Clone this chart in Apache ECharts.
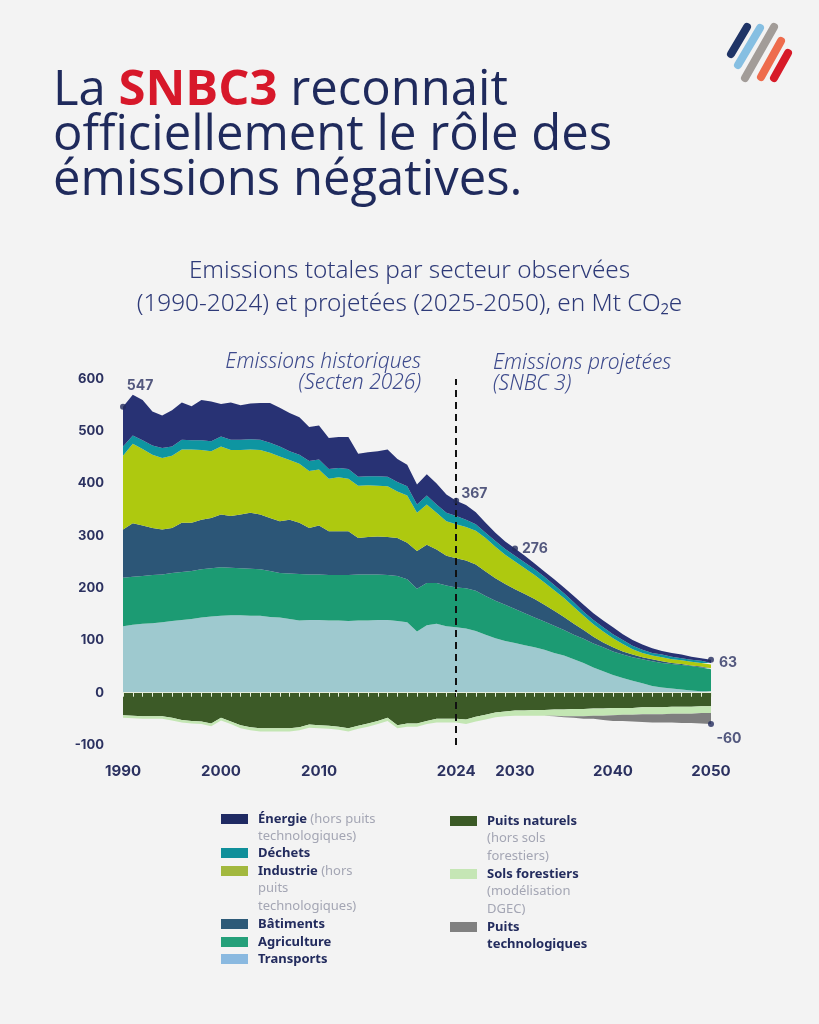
<!DOCTYPE html>
<html>
<head>
<meta charset="utf-8">
<script src="https://cdn.jsdelivr.net/npm/echarts@6/dist/echarts.min.js"></script>
<style>
html,body{margin:0;padding:0;background:#f3f3f3;}
#c{width:819px;height:1024px;}
</style>
</head>
<body>
<div id="c"></div>
<script>
// ---------------- DATA (Mt CO2e) ----------------
const years = ['1990','1991','1992','1993','1994','1995','1996','1997','1998','1999',
  '2000','2001','2002','2003','2004','2005','2006','2007','2008','2009',
  '2010','2011','2012','2013','2014','2015','2016','2017','2018','2019',
  '2020','2021','2022','2023','2024','2025','2026','2027','2028','2029',
  '2030','2031','2032','2033','2034','2035','2036','2037','2038','2039',
  '2040','2041','2042','2043','2044','2045','2046','2047','2048','2049','2050'];

const transports = [127,130,132,133,135,137,139,141,144,146,
  147,148,148,147,147,145,144,141,138,139,
  139,138,138,137,138,138,139,139,137,135,
  117,129,132,127,125,123,118,111,104,99,
  95,91,87,82,76,71,64,57,48,41,
  34,28,23,18,13,10,8,6,4,3,3];

const agriculture = [93,92,91,92,91,92,92,92,92,92,
  93,91,90,90,89,88,85,87,89,87,
  87,87,87,88,88,88,87,86,86,82,
  82,81,78,78,76,77,77,74,72,69,
  65,61,57,54,52,49,47,46,46,46,
  45,45,45,46,47,47,47,47,47,45,42];

const batiments = [92,102,97,90,86,86,94,92,95,96,
  101,99,103,107,105,101,99,103,98,89,
  94,84,84,84,70,72,73,73,73,70,
  72,73,64,57,56,53,50,47,43,40,
  38,37,35,32,29,25,21,17,13,9,
  8,6,5,4,4,3,2,2,1,2,2];

const industrie = [141,152,146,140,137,138,140,140,133,128,
  130,126,123,121,123,125,124,114,113,109,
  107,100,103,100,100,99,97,97,89,90,
  73,77,70,66,65,64,65,64,60,56,
  53,49,46,43,39,36,32,27,24,21,
  17,14,10,8,7,8,7,7,7,7,7];

const dechets = [18,16,17,18,19,18,19,18,19,19,
  19,20,20,20,20,19,19,17,17,19,
  19,19,18,19,17,17,18,18,18,18,
  16,17,16,16,16,14,12,10,11,11,
  11,11,11,11,10,9,9,8,8,8,
  8,8,7,6,5,5,5,4,4,4,3];

const energie = [76,78,77,65,62,69,71,65,77,76,
  62,71,66,68,70,76,74,73,72,65,
  65,59,59,61,44,46,48,52,44,41,
  38,41,40,35,29,28,23,19,16,14,
  14,13,11,10,11,11,12,13,13,13,
  13,11,11,10,9,7,7,7,6,5,6];

const puitsNaturels = [-43,-44,-45,-45,-45,-48,-52,-54,-55,-59,
  -48,-55,-62,-66,-68,-68,-68,-68,-66,-61,
  -62,-63,-65,-68,-63,-59,-54,-48,-62,-59,
  -59,-54,-50,-50,-50,-51,-46,-42,-38,-36,
  -34,-34,-33,-33,-32,-32,-31,-31,-30,-30,
  -29,-29,-29,-28,-28,-28,-27,-27,-27,-26,-26];

const solsForestiers = [-5,-5,-5,-5,-5,-5,-5,-5,-5,-5,
  -5,-5,-6,-6,-6,-6,-6,-6,-6,-6,
  -6,-6,-6,-6,-6,-6,-6,-6,-6,-6,
  -6,-6,-7,-7,-7,-9,-9,-9,-9,-9,
  -10,-10,-11,-11,-12,-13,-14,-14,-14,-14,
  -14,-13,-13,-13,-13,-13,-13,-13,-13,-13,-13];

const puitsTechno = [0,0,0,0,0,0,0,0,0,0,
  0,0,0,0,0,0,0,0,0,0,
  0,0,0,0,0,0,0,0,0,0,
  0,0,0,0,0,0,0,0,0,0,
  0,0,0,0,-1,-2,-3,-5,-6,-8,
  -11,-12,-13,-15,-16,-16,-17,-18,-18,-20,-21];

const xLabelYears = ['1990','2000','2010','2024','2030','2040','2050'];
const yTicks = [-100,0,100,200,300,400,500,600];
const annotatedYears = ['1990','2024','2030','2050'];
const dividerYear = '2024';

// ---------------- STYLE ----------------
const NAVY = '#232c5e';
const AXIS_TXT = '#2b3160';
const colors = {
  'Énergie':'#283274','Déchets':'#0e95a1','Industrie':'#aec90f',
  'Bâtiments':'#2c5677','Agriculture':'#1c9b73','Transports':'#9ec9cf',
  'Puits naturels':'#3c5a27','Sols forestiers':'#c3e6b3','Puits technologiques':'#7f7f7f'
};
const legendColors = {
  'Énergie':'#1f2a63','Déchets':'#0f8f9a','Industrie':'#a2b83e',
  'Bâtiments':'#2d5a78','Agriculture':'#25a07a','Transports':'#8ab9e0',
  'Puits naturels':'#3b5a26','Sols forestiers':'#c5e6b5','Puits technologiques':'#808080'
};

const posSeries = [
  ['Transports', transports],['Agriculture', agriculture],['Bâtiments', batiments],
  ['Industrie', industrie],['Déchets', dechets],['Énergie', energie]
];
const negSeries = [
  ['Puits naturels', puitsNaturels],['Sols forestiers', solsForestiers],['Puits technologiques', puitsTechno]
];

function areaSeries(name, arr, stack){
  return {
    name, type:'line', stack, xAxisIndex:0, yAxisIndex:0,
    data: arr,
    symbol:'none', showSymbol:false,
    lineStyle:{width:0, color:colors[name]},
    itemStyle:{color:colors[name]},
    areaStyle:{color:colors[name], opacity:1},
    emphasis:{disabled:true}, silent:true, z:2
  };
}

const totals = years.map((y,i)=>posSeries.reduce((s,p)=>s+p[1][i],0));
const negTotals = years.map((y,i)=>negSeries.reduce((s,p)=>s+p[1][i],0));

const labelPlacement = {
  '1990':{position:'top', offset:[17,-6]},
  '2024':{position:'right', distance:2, offset:[0,-7]},
  '2030':{position:'right', distance:4, offset:[0,0]},
  '2050':{position:'right', distance:5, offset:[0,3]}
};
const markerData = annotatedYears.map(y=>{
  const i = years.indexOf(y);
  return {value:[y, totals[i]], label:labelPlacement[y]};
});
const lastI = years.length-1;
markerData.push({value:[years[lastI], negTotals[lastI]], label:{position:'bottom', offset:[18,0]}});

// ---------------- LEGEND (one component per entry) ----------------
const richLeg = {
  b:{fontWeight:'bold', color:NAVY, fontSize:13, fontFamily:'Noto Sans', padding:[0,0,0,5]},
  g:{color:'#a4a6b4', fontSize:13, fontFamily:'Noto Sans'}
};
const legendSpec = [
  {name:'Énergie', first:'{b|Énergie} {g|(hors puits}', more:['technologiques)'], x:221, tx:258, cy:819, bold:false},
  {name:'Déchets', first:'{b|Déchets}', more:[], x:221, tx:258, cy:853, bold:false},
  {name:'Industrie', first:'{b|Industrie} {g|(hors}', more:['puits','technologiques)'], x:221, tx:258, cy:871, bold:false},
  {name:'Bâtiments', first:'{b|Bâtiments}', more:[], x:221, tx:258, cy:924, bold:false},
  {name:'Agriculture', first:'{b|Agriculture}', more:[], x:221, tx:258, cy:942, bold:false},
  {name:'Transports', first:'{b|Transports}', more:[], x:221, tx:258, cy:959, bold:false},
  {name:'Puits naturels', first:'{b|Puits naturels}', more:['(hors sols','forestiers)'], x:450, tx:487, cy:821, bold:false},
  {name:'Sols forestiers', first:'{b|Sols forestiers}', more:['(modélisation','DGEC)'], x:450, tx:487, cy:874, bold:false},
  {name:'Puits technologiques', first:'{b|Puits}', more:['technologiques'], x:450, tx:487, cy:927, bold:true}
];
const LINE_H = 17.6;
const legends = legendSpec.map(s=>({
  show:true, orient:'vertical', left:s.x, top:s.cy-8, padding:0,
  itemWidth:27, itemHeight:10, icon:'rect', selectedMode:false,
  data:[{name:s.name, itemStyle:{color:legendColors[s.name]}}],
  formatter:()=>s.first,
  textStyle:{lineHeight:16, rich:richLeg}
}));
const legendExtra = [];
legendSpec.forEach(s=>{
  s.more.forEach((t,k)=>{
    legendExtra.push({type:'text', x:s.tx, y:s.cy + (k+1)*LINE_H, silent:true,
      style:{text:t, fill:s.bold?NAVY:'#a4a6b4', fontSize:13, fontWeight:s.bold?'bold':'normal',
        fontFamily:'Noto Sans', verticalAlign:'middle', align:'left'}});
  });
});

// ---------------- LOGO ----------------
const logo = [
  ['#1f3466',747,27,731,54],
  ['#86bfe2',760,28,738,65],
  ['#a29c98',774,27,745,78],
  ['#ee6c4d',781,41,761,77],
  ['#d71a28',788,53,774,78]
].map(l=>({type:'line', silent:true, shape:{x1:l[1],y1:l[2],x2:l[3],y2:l[4]},
  style:{stroke:l[0], lineWidth:8, lineCap:'round'}}));

const annFont = 'italic 300 21px "Noto Sans"';
const graphics = logo.concat([
  {type:'text', x:421, y:352, silent:true, style:{text:'Emissions historiques\n(Secten 2026)', font:annFont, fill:'#3d4a8c', align:'right', verticalAlign:'top', lineHeight:21}},
  {type:'text', x:493, y:353, silent:true, style:{text:'Emissions projetées\n(SNBC 3)', font:annFont, fill:'#3d4a8c', align:'left', verticalAlign:'top', lineHeight:21}}
]).concat(legendExtra);

const chart = echarts.init(document.getElementById('c'), null, {renderer:'canvas'});
chart.setOption({
  backgroundColor:'#f3f3f3',
  animation:false,
  title:[
    {text:'{n|La }{s|SNBC3}{n| reconnait}\n{n|officiellement le rôle des}\n{n|émissions négatives.}',
     left:53, top:69, padding:0,
     textStyle:{rich:{
       n:{fontSize:49, color:'#1f2a5c', fontFamily:'Open Sans', fontWeight:'normal', lineHeight:45},
       s:{fontSize:49, color:'#d7182a', fontFamily:'Open Sans', fontWeight:'bold', lineHeight:45}
     }}},
    {text:'Emissions totales par secteur observées\n(1990-2024) et projetées (2025-2050), en Mt CO₂e',
     left:'center', top:255, padding:0,
     textStyle:{fontSize:24.3, color:'#2e3a78', fontFamily:'Noto Sans', fontWeight:300, lineHeight:33}}
  ],
  legend: legends,
  grid:{left:123, right:108, top:379, bottom:279, containLabel:false},
  xAxis:[
    {type:'category', data:years, boundaryGap:false, position:'bottom',
     axisLine:{show:false, onZero:false}, axisTick:{show:false}, splitLine:{show:false},
     axisLabel:{interval:(idx,val)=>xLabelYears.indexOf(val)>=0, color:AXIS_TXT, fontSize:15,
       fontWeight:'bold', fontFamily:'Inter', margin:19, showMinLabel:true, showMaxLabel:true}},
    {type:'category', data:years, boundaryGap:false, position:'bottom', z:10,
     axisLine:{show:true, onZero:true, lineStyle:{color:'#e6eede', width:1}},
     axisTick:{show:true, interval:0, length:4, lineStyle:{color:'#e6eede', width:1}},
     axisLabel:{show:false}, splitLine:{show:false}}
  ],
  yAxis:{type:'value', min:yTicks[0], max:yTicks[yTicks.length-1], interval:100,
    axisLine:{show:false}, axisTick:{show:false}, splitLine:{show:false},
    axisLabel:{color:AXIS_TXT, fontSize:13, fontWeight:'bold', fontFamily:'Inter', margin:19}},
  graphic: graphics,
  series: posSeries.map(p=>areaSeries(p[0],p[1],'pos'))
    .concat(negSeries.map(p=>areaSeries(p[0],p[1],'neg')))
    .concat([{
      name:'repères', type:'scatter', xAxisIndex:0, yAxisIndex:0, z:6,
      symbolSize:6, itemStyle:{color:NAVY}, silent:true,
      data:markerData,
      label:{show:true, formatter:p=>String(p.value[1]), color:AXIS_TXT, fontSize:14,
        fontWeight:'bold', fontFamily:'Inter'},
      markLine:{symbol:'none', silent:true, label:{show:false},
        lineStyle:{color:'#111111', type:[7,5], width:2},
        data:[{xAxis:dividerYear}]}
    }])
});
</script>
</body>
</html>
